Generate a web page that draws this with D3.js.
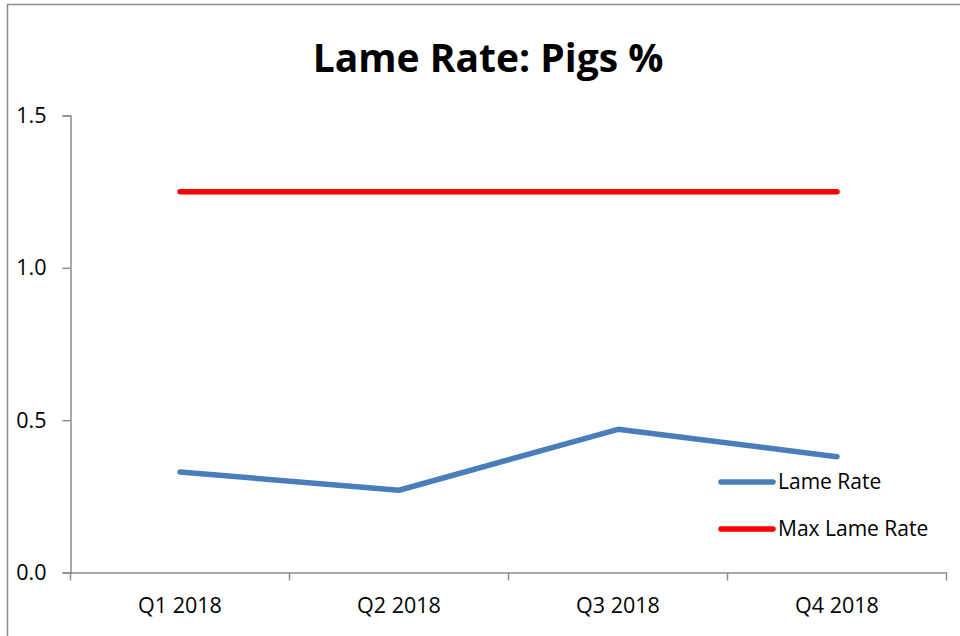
<!DOCTYPE html>
<html>
<head>
<meta charset="utf-8">
<script src="https://cdn.jsdelivr.net/npm/d3@7"></script>
<style>
  body { margin: 0; background: #fff; }
  text { font-family: "Open Sans", "Liberation Sans", sans-serif; fill: #000; }
</style>
</head>
<body>
<svg id="chart" width="960" height="636"></svg>
<script>
const categories = ["Q1 2018", "Q2 2018", "Q3 2018", "Q4 2018"];
const lameRate = [0.33, 0.27, 0.47, 0.38];
const maxLameRate = [1.25, 1.25, 1.25, 1.25];
const yTicks = [0, 0.5, 1.0, 1.5];

const series = [
  { name: "Lame Rate", values: lameRate, color: "#4a7ebb" },
  { name: "Max Lame Rate", values: maxLameRate, color: "#ff0000" },
];

const svg = d3.select("#chart");

// outer chart border
svg.append("rect")
  .attr("x", 7.5).attr("y", 4.5)
  .attr("width", 980).attr("height", 660)
  .attr("fill", "none")
  .attr("stroke", "#8c8c8c")
  .attr("stroke-width", 1.5);

const plotLeft = 70.5, plotRight = 946.5, plotTop = 115.5, plotBottom = 572.5;

const x = d3.scaleBand().domain(categories).range([plotLeft, plotRight]);
const y = d3.scaleLinear().domain([0, 1.5]).range([plotBottom, plotTop]);

svg.append("text")
  .attr("x", 488).attr("y", 72)
  .attr("text-anchor", "middle")
  .style("font-size", "39px")
  .style("font-weight", "bold")
  .text("Lame Rate: Pigs %");

const yAxis = svg.append("g")
  .attr("transform", `translate(${plotLeft},0)`)
  .call(d3.axisLeft(y).tickValues(yTicks).tickFormat(d3.format(".1f")).tickSize(8).tickPadding(16));

const xAxis = svg.append("g")
  .attr("transform", `translate(0,${plotBottom})`)
  .call(d3.axisBottom(x).tickSize(0).tickPadding(25));

// category boundary ticks
xAxis.selectAll(".bound")
  .data(d3.range(categories.length + 1))
  .enter()
  .append("line")
  .attr("x1", (i) => plotLeft + i * x.bandwidth())
  .attr("x2", (i) => plotLeft + i * x.bandwidth())
  .attr("y1", 0).attr("y2", 8);

[yAxis, xAxis].forEach((g) => {
  g.selectAll("path, line").attr("stroke", "#8c8c8c").attr("stroke-width", 1.5);
  g.selectAll("text").style("font-size", "21.5px").attr("fill", "#000");
});

const line = d3.line()
  .x((d, i) => x(categories[i]) + x.bandwidth() / 2)
  .y((d) => y(d));

svg.append("g")
  .selectAll("path")
  .data(series.slice().reverse())
  .enter()
  .append("path")
  .attr("d", (d) => line(d.values))
  .attr("fill", "none")
  .attr("stroke", (d) => d.color)
  .attr("stroke-width", 5.5)
  .attr("stroke-linecap", "round")
  .attr("stroke-linejoin", "round");

const legend = svg.append("g")
  .selectAll("g")
  .data(series)
  .enter()
  .append("g")
  .attr("transform", (d, i) => `translate(721,${482 + i * 47})`);

legend.append("line")
  .attr("x1", 0).attr("x2", 52)
  .attr("stroke", (d) => d.color)
  .attr("stroke-width", 5.5)
  .attr("stroke-linecap", "round");

legend.append("text")
  .attr("x", 57).attr("dy", "0.35em")
  .style("font-size", "21px")
  .text((d) => d.name);
</script>
</body>
</html>
